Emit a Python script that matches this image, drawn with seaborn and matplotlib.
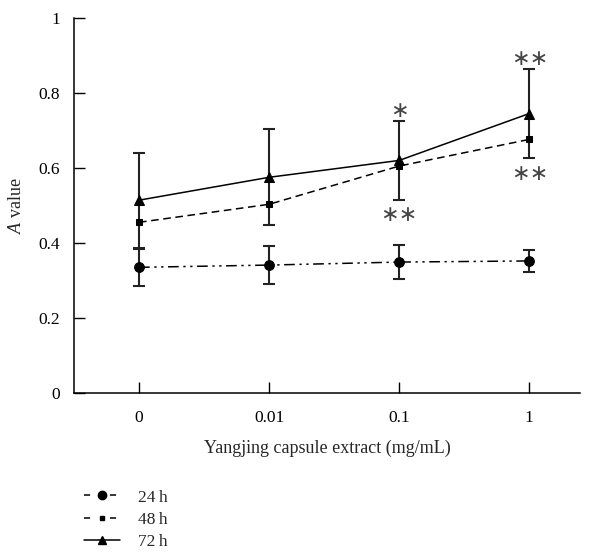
import matplotlib
matplotlib.use("Agg")
import matplotlib.pyplot as plt
import seaborn as sns
import pandas as pd
import numpy as np

concentrations = ["0", "0.01", "0.1", "1"]
series_names = ["24 h", "48 h", "72 h"]
mean_24h = [0.335, 0.341, 0.349, 0.352]
err_24h = [0.050, 0.050, 0.045, 0.030]
mean_48h = [0.455, 0.503, 0.605, 0.676]
mean_72h = [0.514, 0.575, 0.620, 0.745]
err_72h = [0.127, 0.128, 0.105, 0.119]
y_ticks = [0, 0.2, 0.4, 0.6, 0.8, 1.0]
y_tick_labels = ["0", "0.2", "0.4", "0.6", "0.8", "1"]

sns.set_style("ticks")
plt.rcParams["font.family"] = ["Liberation Serif", "DejaVu Serif"]
plt.rcParams["mathtext.fontset"] = "custom"
plt.rcParams["mathtext.it"] = "Liberation Serif:italic"
plt.rcParams["mathtext.rm"] = "Liberation Serif"

fig = plt.figure(figsize=(6.0, 5.59), dpi=100)
ax = fig.add_axes([0.1233, 0.297, 0.8434, 0.671])

xpos = np.arange(len(concentrations))
df = pd.DataFrame({
    "x": np.tile(xpos, 3),
    "y": mean_24h + mean_48h + mean_72h,
    "series": np.repeat(series_names, len(concentrations)),
})

styles = {
    "24 h": dict(marker="o", ms=7, ls=(0, (7, 3, 1.5, 3, 1.5, 3))),
    "48 h": dict(marker="s", ms=4, ls=(0, (5, 3))),
    "72 h": dict(marker="^", ms=7, ls="-"),
}
errs = {"24 h": err_24h, "72 h": err_72h}
means = {"24 h": mean_24h, "48 h": mean_48h, "72 h": mean_72h}

handles = []
for name in series_names:
    sub = df[df["series"] == name]
    st = styles[name]
    sns.lineplot(data=sub, x="x", y="y", ax=ax, color="black", lw=1.1,
                 marker=st["marker"], markersize=st["ms"], linestyle=st["ls"],
                 markeredgecolor="black", label=name, legend=False)
    if name in errs:
        ax.errorbar(xpos, means[name], yerr=errs[name], fmt="none",
                    ecolor="#222222", elinewidth=1.5, capsize=4.5, capthick=1.5, zorder=1)
    handles.append(plt.Line2D([], [], color="black", lw=1.1, marker=st["marker"],
                              markersize=st["ms"] - 1,
                              linestyle=(0, (4, 13)) if name != "72 h" else "-"))

# significance marks
star_kw = dict(ha="center", fontsize=16, color="#444444", family=["DejaVu Sans"])
ax.text(2, mean_72h[2] + err_72h[2] + 0.0, "\u2217", va="bottom", **star_kw)
ax.text(3, mean_72h[3] + err_72h[3] + 0.0, "\u2217\u2217", va="bottom", **star_kw)
ax.text(2, mean_72h[2] - err_72h[2] - 0.015, "\u2217\u2217", va="top", **star_kw)
ax.text(3, mean_72h[3] - err_72h[3] - 0.015, "\u2217\u2217", va="top", **star_kw)

ax.set_xlim(-0.5, 3.39)
ax.set_ylim(0, 1.0)
ax.set_xticks(xpos)
ax.set_xticklabels(concentrations)
ax.set_yticks(y_ticks)
ax.set_yticklabels(y_tick_labels)
ax.tick_params(axis="both", direction="in", length=8, width=1, labelsize=12.5, colors="black")
ax.tick_params(axis="x", pad=12)
ax.tick_params(axis="y", pad=10)
for s in ["top", "right"]:
    ax.spines[s].set_visible(False)
for s in ["left", "bottom"]:
    ax.spines[s].set_linewidth(1.1)
    ax.spines[s].set_color("black")

ax.set_xlabel("Yangjing capsule extract (mg/mL)", fontsize=13, labelpad=10)
ax.set_ylabel("$\\mathit{A}$ value", fontsize=13, labelpad=10)

fig.legend(handles, ["24\u2009h", "48\u2009h", "72\u2009h"], loc="upper left",
           bbox_to_anchor=(0.125, 0.14), frameon=False, fontsize=12.5,
           handlelength=2.1, labelspacing=0.35, handletextpad=1.0, borderpad=0)

fig.savefig("out.png", dpi=100)
